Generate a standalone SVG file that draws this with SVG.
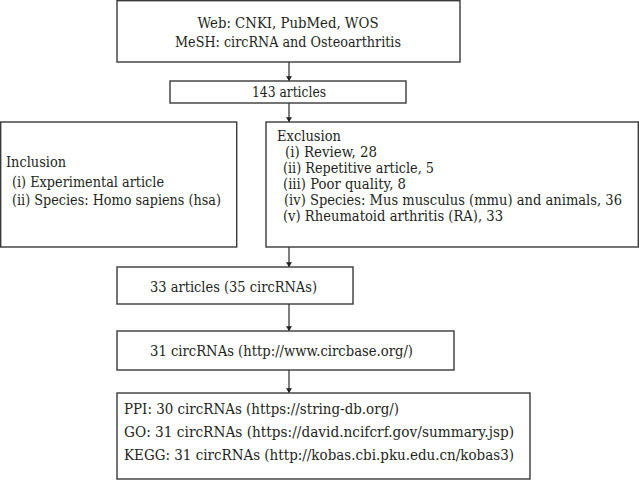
<svg xmlns="http://www.w3.org/2000/svg" width="639" height="480" viewBox="0 0 639 480">
<defs>
<style>
.box{fill:#fff;stroke:#3a3a3a;stroke-width:1.4}
text{font-family:'DejaVu Serif','Noto Serif',serif;font-size:14.5px;fill:#231f20}
.ln{stroke:#3a3a3a;stroke-width:1.3;fill:none}
</style>
<marker id="ah" viewBox="0 0 8 10" refX="8" refY="5" markerWidth="5" markerHeight="6" orient="auto" markerUnits="userSpaceOnUse">
<path d="M0,0 L8,5 L0,10 z" fill="#231f20"/>
</marker>
</defs>
<rect width="639" height="480" fill="#fff"/>
<g id="connectors">
<line class="ln" x1="289" y1="62" x2="289" y2="81" marker-end="url(#ah)"/>
<line class="ln" x1="289" y1="103" x2="289" y2="122" marker-end="url(#ah)"/>
<line class="ln" x1="289" y1="247" x2="289" y2="267" marker-end="url(#ah)"/>
<line class="ln" x1="289" y1="304" x2="289" y2="331" marker-end="url(#ah)"/>
<line class="ln" x1="289" y1="370" x2="289" y2="393" marker-end="url(#ah)"/>
</g>
<g id="search">
<rect class="box" x="117" y="0.7" width="343" height="61.3"/>
<text x="197.5" y="28" textLength="181" lengthAdjust="spacingAndGlyphs">Web: CNKI, PubMed, WOS</text>
<text x="175" y="47" textLength="226" lengthAdjust="spacingAndGlyphs">MeSH: circRNA and Osteoarthritis</text>
</g>
<g id="articles143">
<rect class="box" x="170" y="81" width="236" height="22"/>
<text x="252" y="97" textLength="74" lengthAdjust="spacingAndGlyphs">143 articles</text>
</g>
<g id="inclusion">
<rect class="box" x="0.7" y="122" width="236" height="125"/>
<text x="6" y="167" textLength="60" lengthAdjust="spacingAndGlyphs">Inclusion</text>
<text x="12" y="187" textLength="152" lengthAdjust="spacingAndGlyphs">(i) Experimental article</text>
<text x="12" y="205" textLength="209" lengthAdjust="spacingAndGlyphs">(ii) Species: Homo sapiens (hsa)</text>
</g>
<g id="exclusion">
<rect class="box" x="266" y="122" width="372.3" height="125"/>
<text x="277" y="141" textLength="64" lengthAdjust="spacingAndGlyphs">Exclusion</text>
<text x="285" y="157" textLength="92" lengthAdjust="spacingAndGlyphs">(i) Review, 28</text>
<text x="283" y="173" textLength="151" lengthAdjust="spacingAndGlyphs">(ii) Repetitive article, 5</text>
<text x="283" y="189" textLength="123" lengthAdjust="spacingAndGlyphs">(iii) Poor quality, 8</text>
<text transform="translate(284 205) scale(0.86 1)" x="0" y="0" textLength="393" lengthAdjust="spacingAndGlyphs">(iv) Species: Mus musculus (mmu) and animals, 36</text>
<text x="283" y="221" textLength="220" lengthAdjust="spacingAndGlyphs">(v) Rheumatoid arthritis (RA), 33</text>
</g>
<g id="articles33">
<rect class="box" x="117" y="267" width="236" height="37"/>
<text x="150" y="292" textLength="167" lengthAdjust="spacingAndGlyphs">33 articles (35 circRNAs)</text>
</g>
<g id="circ31">
<rect class="box" x="117" y="331" width="337" height="39"/>
<text x="150" y="356" textLength="263" lengthAdjust="spacingAndGlyphs">31 circRNAs (http://www.circbase.org/)</text>
</g>
<g id="analysis">
<rect class="box" x="117" y="393" width="413" height="86"/>
<text x="124" y="414" textLength="275" lengthAdjust="spacingAndGlyphs">PPI: 30 circRNAs (https://string-db.org/)</text>
<text x="124" y="437" textLength="390" lengthAdjust="spacingAndGlyphs">GO: 31 circRNAs (https://david.ncifcrf.gov/summary.jsp)</text>
<text x="124" y="460" textLength="390" lengthAdjust="spacingAndGlyphs">KEGG: 31 circRNAs (http://kobas.cbi.pku.edu.cn/kobas3)</text>
</g>
</svg>
